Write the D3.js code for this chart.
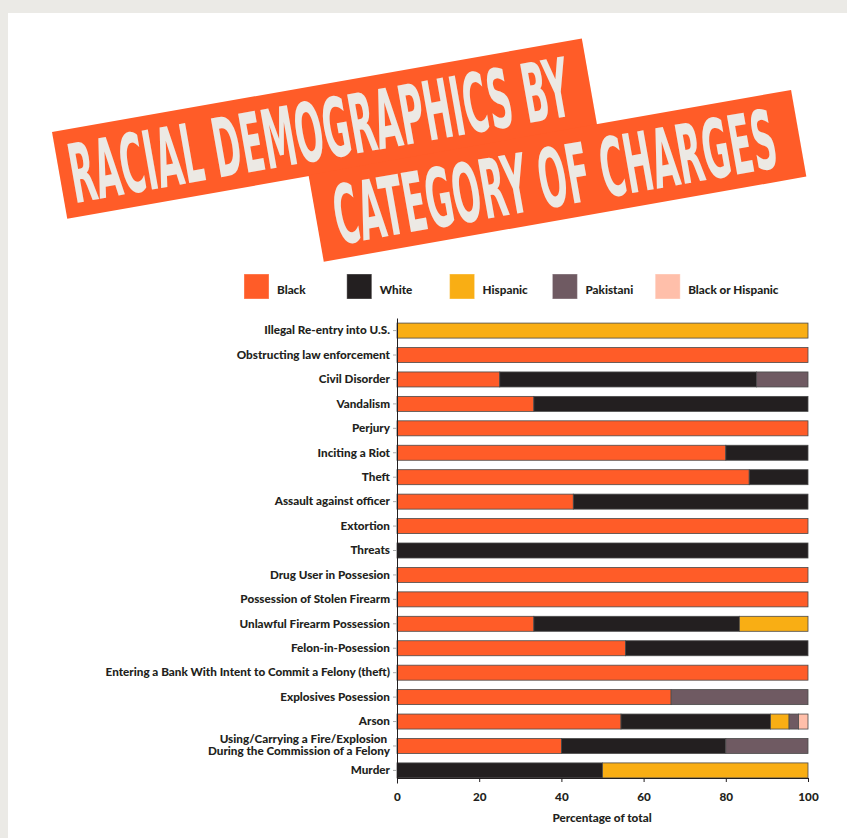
<!DOCTYPE html>
<html lang="en">
<head>
    <meta charset="UTF-8">
    <title>Racial Demographics by Category of Charges</title>
    <script src="https://d3js.org/d3.v7.min.js"></script>
    <style>
        body { margin: 0; background: #ebeae6; }
        svg { display: block; font-family: Lato, "Open Sans", sans-serif; }
        .axis text, .lbl { font-family: Lato, "Open Sans", sans-serif; font-size: 11.7px; font-weight: 900; fill: #231f20; }
    </style>
</head>
<body>
    <div id="chart"></div>
    <script>
        const categories = [
            "Illegal Re-entry into U.S.",
            "Obstructing law enforcement",
            "Civil Disorder",
            "Vandalism",
            "Perjury",
            "Inciting a Riot",
            "Theft",
            "Assault against officer",
            "Extortion",
            "Threats",
            "Drug User in Possesion",
            "Possession of Stolen Firearm",
            "Unlawful Firearm Possession",
            "Felon-in-Posession",
            "Entering a Bank With Intent to Commit a Felony (theft)",
            "Explosives Posession",
            "Arson",
            "Using/Carrying a Fire/Explosion|During the Commission of a Felony",
            "Murder"
        ];
        const races = ["Black", "White", "Hispanic", "Pakistani", "Black or Hispanic"];
        const colors = ["#ff5c28", "#231f20", "#f9ae14", "#6f5a62", "#ffbfaa"];

        // percent of defendants per category, one array per race
        const black = [0, 100, 25, 33.3, 100, 80, 85.7, 42.9, 100, 0, 100, 100, 33.3, 55.6, 100, 66.7, 54.5, 40, 0];
        const white = [0, 0, 62.5, 66.7, 0, 20, 14.3, 57.1, 0, 100, 0, 0, 50, 44.4, 0, 0, 36.4, 40, 50];
        const hispanic = [100, 0, 0, 0, 0, 0, 0, 0, 0, 0, 0, 0, 16.7, 0, 0, 0, 4.5, 0, 50];
        const pakistani = [0, 0, 12.5, 0, 0, 0, 0, 0, 0, 0, 0, 0, 0, 0, 0, 33.3, 2.3, 20, 0];
        const blackOrHispanic = [0, 0, 0, 0, 0, 0, 0, 0, 0, 0, 0, 0, 0, 0, 0, 0, 2.3, 0, 0];
        const xTicks = [0, 20, 40, 60, 80, 100];

        const seriesValues = [black, white, hispanic, pakistani, blackOrHispanic];
        const rows = categories.map((c, i) => {
            const row = { category: c };
            races.forEach((r, j) => row[r] = seriesValues[j][i]);
            return row;
        });

        const width = 847, height = 838;
        const svg = d3.select("#chart").append("svg")
            .attr("width", width)
            .attr("height", height);

        // white panel
        svg.append("rect")
            .attr("x", 8).attr("y", 13)
            .attr("width", width).attr("height", height)
            .attr("fill", "#fff");

        // title banners
        const banners = [
            { text: "RACIAL DEMOGRAPHICS BY", x: 52, y: 132, w: 538, tx: 10, len: 507 },
            { text: "CATEGORY OF CHARGES", x: 308.5, y: 175, w: 490, tx: 18, len: 448 }
        ];
        const bannerG = svg.selectAll(".banner")
            .data(banners)
            .enter()
            .append("g")
            .attr("class", "banner")
            .attr("transform", d => `translate(${d.x},${d.y}) rotate(-10)`);
        bannerG.append("rect")
            .attr("width", d => d.w)
            .attr("height", 88)
            .attr("fill", "#ff5c28");
        // squeeze the title text horizontally to fit the banner
        bannerG.append("text")
            .attr("y", 74)
            .style("font-family", "'DejaVu Sans Condensed', 'DejaVu Sans', sans-serif")
            .style("font-weight", 700)
            .style("font-size", "82px")
            .attr("fill", "#ece9e4")
            .text(d => d.text)
            .attr("transform", function(d) {
                const natural = this.getComputedTextLength();
                return `translate(${d.tx},0) scale(${d.len / natural},1)`;
            });

        // legend
        const legend = svg.selectAll(".legend")
            .data(races)
            .enter()
            .append("g")
            .attr("class", "legend")
            .attr("transform", (d, i) => `translate(${244 + i * 102.8}, 274)`);
        legend.append("rect")
            .attr("width", 25).attr("height", 25)
            .attr("fill", (d, i) => colors[i])
            .attr("stroke", "rgba(255,255,255,0.35)");
        legend.append("text")
            .attr("class", "lbl")
            .attr("x", 33).attr("y", 20)
            .text(d => d);

        // chart
        const x = d3.scaleLinear().domain([0, 100]).range([397, 808]);
        const y = d3.scaleBand()
            .domain(categories)
            .range([318, 783])
            .paddingInner(0.386)
            .paddingOuter(0.208);
        const color = d3.scaleOrdinal().domain(races).range(colors);

        const stacked = d3.stack().keys(races)(rows);

        svg.append("g")
            .selectAll("g")
            .data(stacked)
            .enter()
            .append("g")
            .attr("fill", d => color(d.key))
            .selectAll("rect")
            .data(d => d.filter(p => p[1] - p[0] > 0))
            .enter()
            .append("rect")
            .attr("x", d => x(d[0]))
            .attr("y", d => y(d.data.category))
            .attr("width", d => x(d[1]) - x(d[0]))
            .attr("height", y.bandwidth())
            .attr("stroke", "#4a4a4a")
            .attr("stroke-width", 0.8);

        // y axis
        const yAxis = svg.append("g")
            .attr("class", "axis")
            .attr("transform", "translate(397,0)")
            .call(d3.axisLeft(y).tickSize(4).tickPadding(3).tickSizeOuter(0));
        yAxis.select(".domain").attr("stroke", "#231f20");
        yAxis.selectAll(".tick line").attr("stroke", "#aaa");
        yAxis.selectAll(".tick text").each(function(d) {
            const parts = d.split("|");
            if (parts.length > 1) {
                const t = d3.select(this).text(null);
                t.append("tspan").attr("x", -7).attr("dy", "-0.22em").text(parts[0] + "\u00a0");
                t.append("tspan").attr("x", -7).attr("dy", "1.0em").text(parts[1]);
            }
        });

        // x axis
        const xAxis = svg.append("g")
            .attr("class", "axis")
            .attr("transform", "translate(0,778)")
            .call(d3.axisBottom(x).tickValues(xTicks).tickSize(4).tickPadding(11));
        xAxis.select(".domain").attr("stroke", "#231f20");
        xAxis.selectAll(".tick line").attr("stroke", "#231f20");

        svg.append("text")
            .attr("class", "lbl")
            .attr("x", 602)
            .attr("y", 822)
            .attr("text-anchor", "middle")
            .text("Percentage of total");
    </script>
</body>
</html>
